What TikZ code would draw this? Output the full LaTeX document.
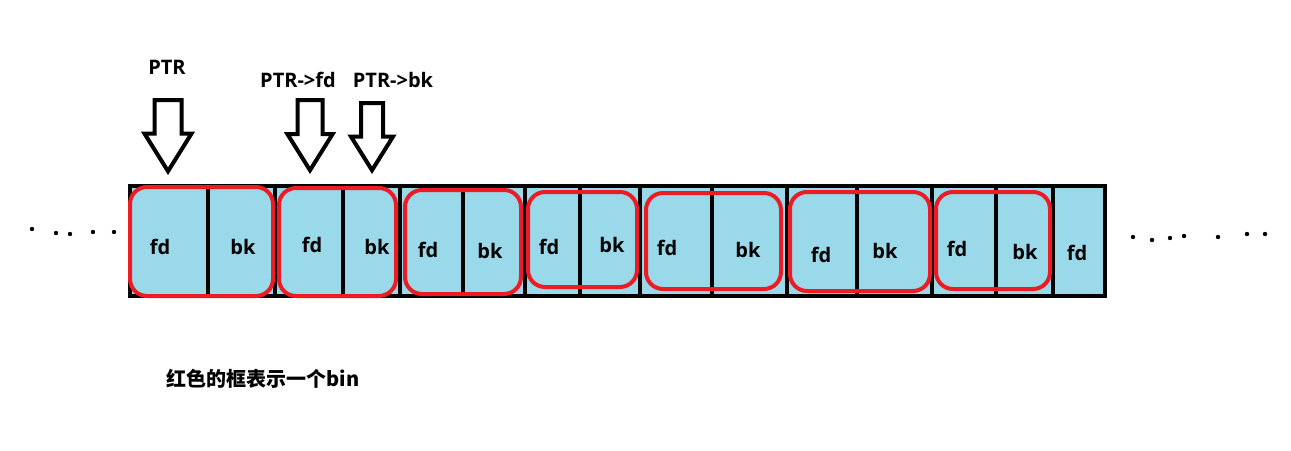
\documentclass[tikz,border=0pt]{standalone}
\usepackage{fontspec}
\setmainfont{Open Sans}
\newfontfamily\cjkfont{Noto Sans CJK SC}
\usetikzlibrary{shapes.arrows}
\definecolor{paintblue}{RGB}{153,217,234}
\definecolor{paintred}{RGB}{237,28,36}
\tikzstyle{cell} = [rectangle, draw=black, line width=4pt, fill=paintblue, minimum height=110pt, inner sep=0pt]
\tikzstyle{bin} = [rectangle, rounded corners=17pt, draw=paintred, line width=4pt, inner sep=0pt]
\tikzstyle{field} = [font=\fontsize{20}{24}\selectfont\bfseries, inner sep=0pt]
\tikzstyle{pointer} = [single arrow, draw=black, fill=white, line width=4pt, rotate=-90, single arrow tip angle=64, single arrow head extend=10pt, inner xsep=0pt, anchor=tip]
\newcommand{\dotmark}[2]{\fill (#1,#2) circle (2.2pt);}

\begin{document}
\begin{tikzpicture}[x=1pt, y=-1pt]%
	\useasboundingbox (0,0) rectangle (1291,450);%
	% the row of chunk fields
	\foreach \name/\l/\w in {c1/130/78, c2/208/67, c3/275/68, c4/343/57, c5/400/63,%
		c6/463/62, c7/525/55, c8/580/60, c9/640/72, c10/712/75, c11/787/70,%
		c12/857/75, c13/932/64, c14/996/57, c15/1053/52}%
		\node[cell, minimum width=\w pt] (\name) at ({\l+\w/2},241) {};%
	% red boxes, one per bin
	\foreach \name/\x/\y/\w/\h in {b1/201.5/241.5/143/109, b2/337.5/242/117/108,%
		b3/463/242/116/104, b4/582.5/239.5/109/95, b5/713.5/241/135/96,%
		b6/860/241.5/140/99, b7/993/240.5/114/97}%
		\node[bin, minimum width=\w pt, minimum height=\h pt] (\name) at (\x,\y) {};%
	% field names
	\foreach \name/\x/\y/\txt in {f1/160/247/fd, k1/243/247/bk, f2/312/245/fd, k2/377/247/bk,%
		f3/428/250/fd, k3/490/251/bk, f4/549/247/fd, k4/612/245/bk, f5/667/248/fd,%
		k5/748/250/bk, f6/821/255/fd, k6/885/251/bk, f7/957/249/fd, k7/1025/252/bk,%
		f8/1077/253/fd}%
		\node[field] (\name) at (\x,\y) {\txt};%
	% pointers
	\node[pointer, minimum height=71pt, minimum width=45pt, inner ysep=11.5pt] (ptr) at (168,175) {};%
	\node[pointer, minimum height=70pt, minimum width=42pt, inner ysep=10.5pt] (ptrfd) at (310,174) {};%
	\node[pointer, minimum height=67pt, minimum width=40pt, inner ysep=9pt] (ptrbk) at (372,174) {};%
	\node[field] (ptrlabel) at (167,67) {PTR};%
	\node[field] (fdlabel) at (298,80) {PTR->fd};%
	\node[field] (bklabel) at (393,80) {PTR->bk};%
	% dots on both sides
	\dotmark{32}{229} \dotmark{56}{233} \dotmark{70}{234} \dotmark{93}{232} \dotmark{114}{232}%
	\dotmark{1133}{237} \dotmark{1152}{240} \dotmark{1170}{238} \dotmark{1184}{236}%
	\dotmark{1218}{237} \dotmark{1247}{234} \dotmark{1265}{234}%
	% note
	\node[field, font=\cjkfont\fontsize{20}{24}\selectfont\bfseries] (note) at (263,379) {红色的框表示一个bin};%
\end{tikzpicture}
\end{document}
